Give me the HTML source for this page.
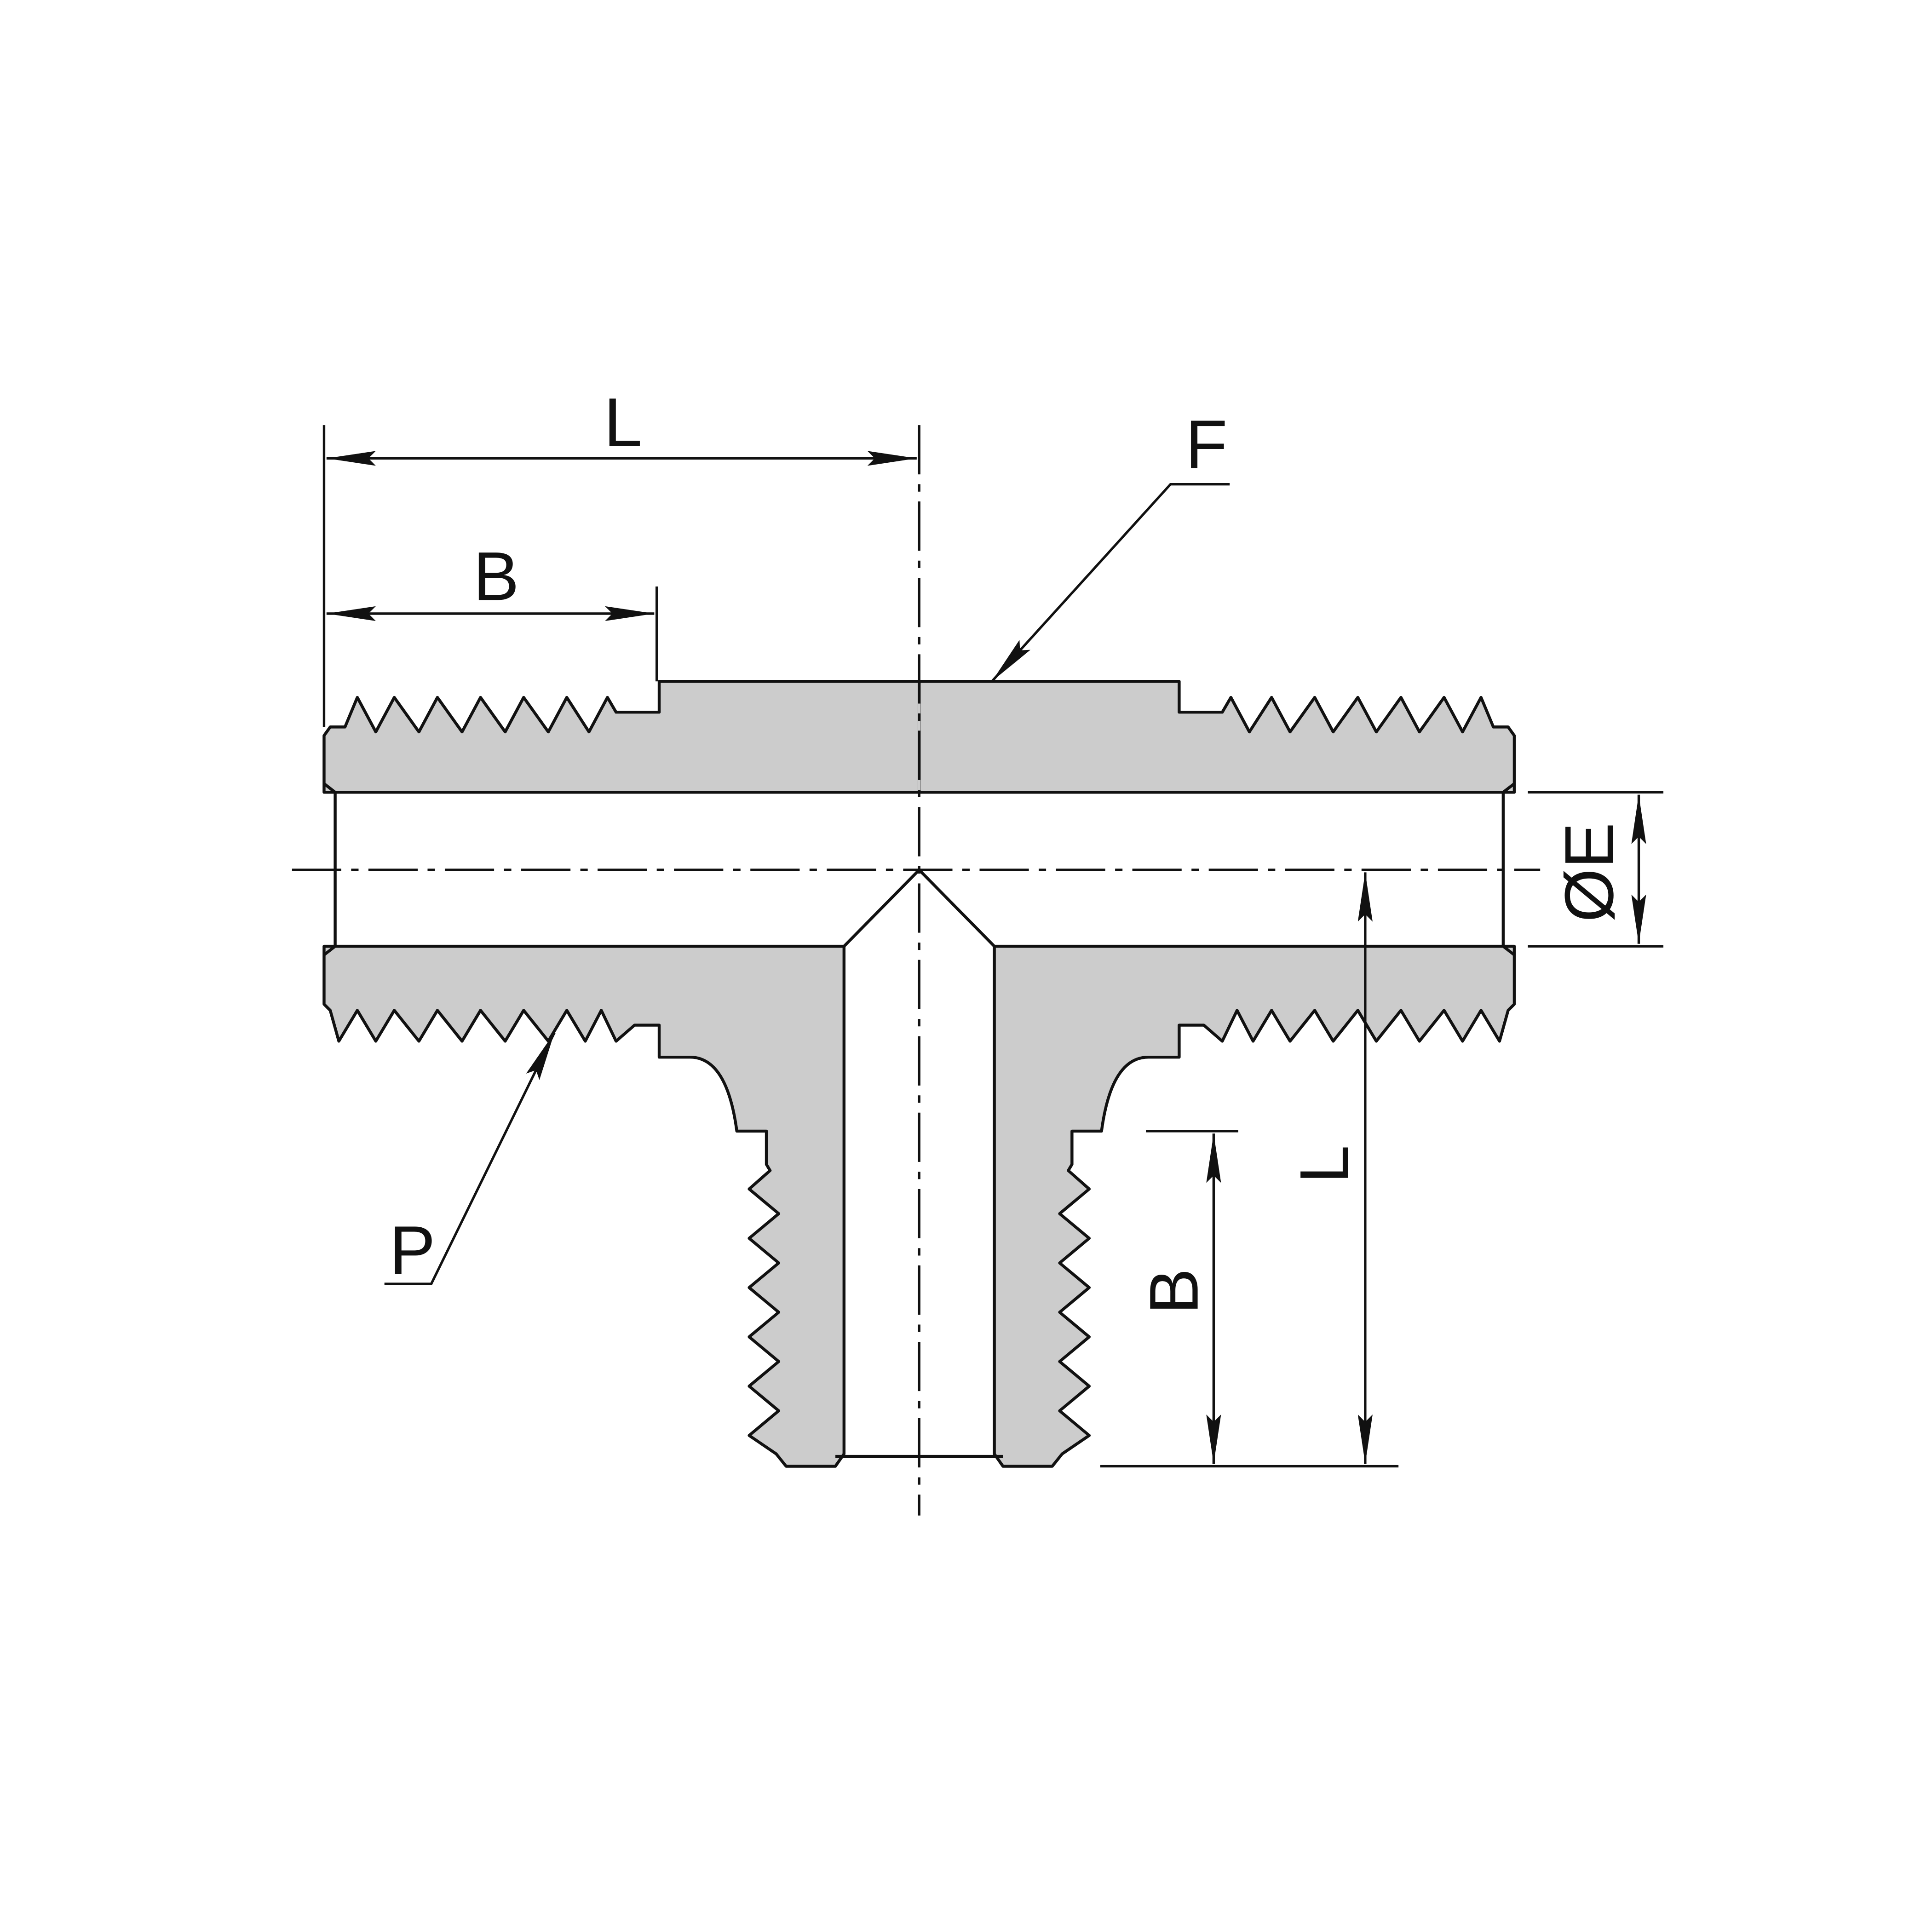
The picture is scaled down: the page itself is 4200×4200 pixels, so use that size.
<!DOCTYPE html>
<html><head><meta charset="utf-8"><style>
html,body{margin:0;padding:0;background:#fff;}
svg{display:block;}
text{font-family:"Liberation Sans",sans-serif;font-size:56px;fill:#111;}
</style></head><body>
<svg width="4200" height="4200" viewBox="0 0 1568 1568" xmlns="http://www.w3.org/2000/svg">
<defs>
<marker id="a" viewBox="0 0 40 12" refX="40" refY="6" markerWidth="40" markerHeight="12" orient="auto-start-reverse" markerUnits="userSpaceOnUse">
<path d="M0,0 L40,6 L0,12 L6,6 Z" fill="#111"/></marker>
<g id="half" fill="#cccccc" stroke="#111" stroke-width="2.4" stroke-linejoin="round">
<path d="M263,597 L268,590 L280,590 L290,566 L305,594 L320,566 L340,594 L355,566 L375,594 L390,566 L410,594 L425,566 L445,594 L460,566 L478,594 L493,566 L500,578 L535,578 L535,553 L746,553 L746,643 L263,643 Z"/>
<path d="M263,768 L685,768 L685,1180 L678,1190 L638,1190 L630,1180 L608,1165 L632,1145 L608,1125 L632,1105 L608,1085 L632,1065 L608,1045 L632,1025 L608,1005 L632,985 L608,965 L625,950 L622,945 L622,918 L598,918 Q590,858 560,858 L535,858 L535,832 L515,832 L500,845 L488,820 L475,845 L460,820 L445,845 L425,820 L410,845 L390,820 L375,845 L355,820 L340,845 L320,820 L305,845 L290,820 L275,845 L268,820 L263,815 Z"/>
</g>
</defs>
<use href="#half"/>
<use href="#half" transform="translate(1492,0) scale(-1,1)"/>
<rect x="745" y="555" width="2" height="87" fill="#cccccc"/>
<g stroke="#111" stroke-width="2.4" fill="none">
<path d="M272,643 L272,768 M263,636 L272,643 M263,775 L272,768 M1220,643 L1220,768 M1229,636 L1220,643 M1229,775 L1220,768"/>
<path d="M685,768 L746,706 L807,768"/>
<path d="M678,1182 L814,1182"/>
</g>
<g stroke="#111" stroke-width="2" fill="none">
<path d="M746,345 L746,1230" stroke-dasharray="40,8,6,8"/>
<path d="M237,706 L1250,706" stroke-dasharray="40,8,6,8"/>
<path d="M263,345 L263,590 M533,476 L533,553"/>
<path d="M265,372 L744,372" marker-start="url(#a)" marker-end="url(#a)"/>
<path d="M265,498 L531,498" marker-start="url(#a)" marker-end="url(#a)"/>
<path d="M1240,643 L1350,643 M1240,768 L1350,768"/>
<path d="M1330,645 L1330,766" marker-start="url(#a)" marker-end="url(#a)"/>
<path d="M893,1190 L1135,1190 M930,918 L1005,918"/>
<path d="M1108,708 L1108,1188" marker-start="url(#a)" marker-end="url(#a)"/>
<path d="M985,920 L985,1188" marker-start="url(#a)" marker-end="url(#a)"/>
<path d="M998,393 L950,393 L805,553" marker-end="url(#a)"/>
<path d="M312,1042 L350,1042 L450,838" marker-end="url(#a)"/>
</g>
<text x="490" y="362">L</text>
<text x="384" y="487">B</text>
<text x="962" y="380">F</text>
<text x="316" y="1034">P</text>
<text transform="translate(1309,708) rotate(-90)" text-anchor="middle">ØE</text>
<text transform="translate(1094,945) rotate(-90)" text-anchor="middle">L</text>
<text transform="translate(972,1048) rotate(-90)" text-anchor="middle">B</text>
</svg>
</body></html>
